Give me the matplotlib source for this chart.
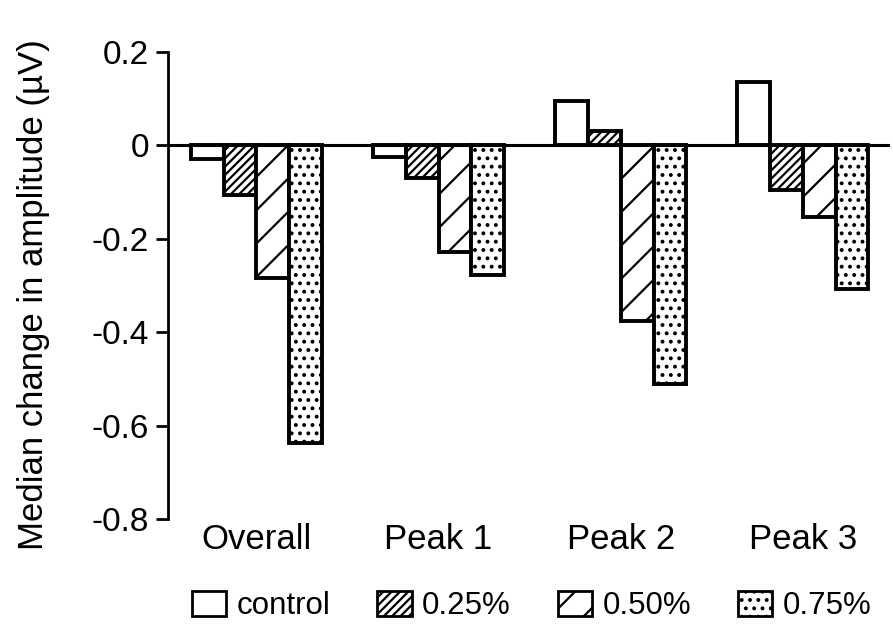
import numpy as np
import matplotlib.pyplot as plt
from matplotlib.patches import Patch

groups = ["Overall", "Peak 1", "Peak 2", "Peak 3"]
series = ["control", "0.25%", "0.50%", "0.75%"]
control = [-0.030, -0.026, 0.094, 0.135]
conc_025 = [-0.107, -0.071, 0.030, -0.096]
conc_050 = [-0.285, -0.229, -0.377, -0.154]
conc_075 = [-0.638, -0.278, -0.510, -0.308]
yticks = [0.2, 0, -0.2, -0.4, -0.6, -0.8]
ytick_labels = ["0.2", "0", "-0.2", "-0.4", "-0.6", "-0.8"]

hatches = ["", "////", "/", ".."]
values = [control, conc_025, conc_050, conc_075]

plt.rcParams['font.family'] = ['Liberation Sans', 'DejaVu Sans']
plt.rcParams['hatch.linewidth'] = 1.6

fig = plt.figure(figsize=(8.93, 6.24), dpi=100)
ax = fig.add_axes([0.188, 0.168, 0.809, 0.749])

x = np.arange(len(groups))
w = 0.18
for i, vals in enumerate(values):
    ax.bar(x + (i - 1.5) * w, vals, w, color="white", edgecolor="black",
           linewidth=2.8, hatch=hatches[i], zorder=2)

# zero line across the plot
ax.axhline(0, color="black", linewidth=2.2, zorder=3)

ax.set_xlim(-0.486, 3.48)
ax.set_ylim(-0.8, 0.2)
ax.set_yticks(yticks)
ax.set_yticklabels(ytick_labels, fontsize=24)
ax.set_xticks(x)
ax.set_xticklabels(groups, fontsize=25)
ax.tick_params(axis="x", length=0, pad=3)
ax.tick_params(axis="y", direction="out", length=8.6, width=2, pad=5)

for s in ["top", "right", "bottom"]:
    ax.spines[s].set_visible(False)
ax.spines["left"].set_linewidth(2)

ax.set_ylabel("Median change in amplitude (\u00b5V)", fontsize=25)
ax.yaxis.set_label_coords(-0.163, 0.48)

handles = [Patch(facecolor="white", edgecolor="black", linewidth=2, hatch=h) for h in hatches]
fig.legend(handles, series, loc="center left", bbox_to_anchor=(0.215, 0.029), ncol=4,
           frameon=False, fontsize=22.5, handlelength=1.1, handleheight=0.9,
           handletextpad=0.33, columnspacing=1.5, borderaxespad=0, borderpad=0)

fig.savefig("out.png", dpi=100)
